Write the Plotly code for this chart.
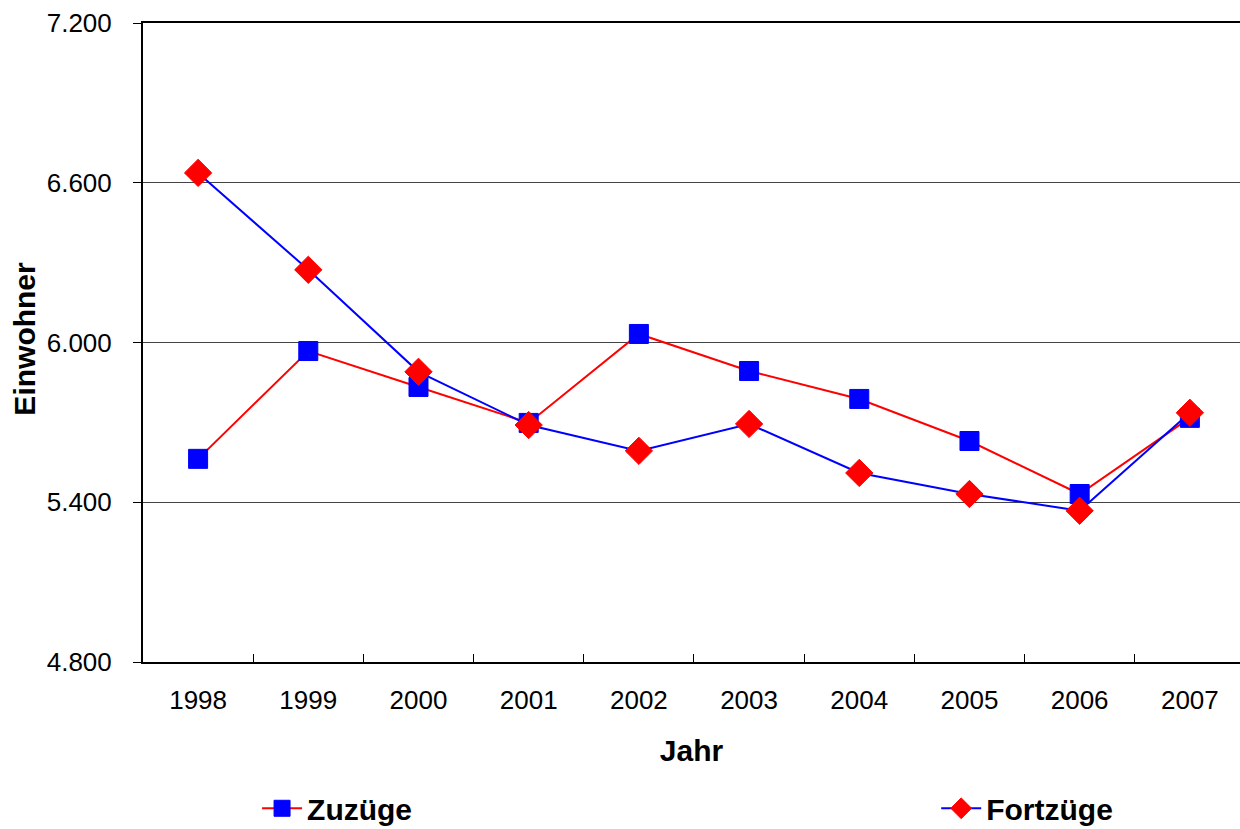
import plotly.graph_objects as go

years = ["1998", "1999", "2000", "2001", "2002", "2003", "2004", "2005", "2006", "2007"]
zuzuege = [5563, 5968, 5833, 5698, 6032, 5893, 5788, 5630, 5431, 5717]
fortzuege = [6637, 6273, 5890, 5690, 5593, 5694, 5510, 5431, 5368, 5736]
y_ticks = [4800, 5400, 6000, 6600, 7200]

FONT = "Liberation Sans, Arial, sans-serif"

fig = go.Figure()
fig.add_trace(go.Scatter(
    x=years, y=zuzuege, name="Zuzüge", mode="lines+markers", legend="legend",
    line=dict(color="#FF0000", width=2),
    marker=dict(symbol="square", size=19, color="#0000FF", line=dict(color="#0000FF", width=1)),
))
fig.add_trace(go.Scatter(
    x=years, y=fortzuege, name="Fortzüge", mode="lines+markers", legend="legend2",
    line=dict(color="#0000FF", width=2),
    marker=dict(symbol="diamond", size=21, color="#FF0000", line=dict(color="#FF0000", width=1)),
))

legend_font = dict(family=FONT, size=30, color="black", weight="bold")

fig.update_layout(
    width=1240, height=829,
    margin=dict(l=143, r=0, t=23, b=167, autoexpand=False),
    paper_bgcolor="white", plot_bgcolor="white",
    separators=",.",
    font=dict(family=FONT, size=26, color="black"),
    showlegend=True,
    legend=dict(
        xref="container", yref="container",
        x=0.2073, y=0.025, xanchor="left", yanchor="middle", itemwidth=40,
        font=legend_font, bgcolor="rgba(0,0,0,0)",
    ),
    legend2=dict(
        xref="container", yref="container",
        x=0.755, y=0.025, xanchor="left", yanchor="middle", itemwidth=40,
        font=legend_font, bgcolor="rgba(0,0,0,0)",
    ),
    xaxis=dict(
        type="category", range=[-0.5, 9.455],
        showline=True, linecolor="black", linewidth=2, mirror=True,
        ticks="inside", ticklen=8, tickwidth=1, tickcolor="black",
        tickson="boundaries", showgrid=False, zeroline=False,
        tickfont=dict(family=FONT, size=26),
        ticklabelstandoff=14,
        title=dict(text="Jahr", font=dict(family=FONT, size=30, weight="bold"), standoff=26),
    ),
    yaxis=dict(
        range=[4800, 7200], tickvals=y_ticks, tickformat=",d",
        showline=True, linecolor="black", linewidth=2,
        ticks="outside", ticklen=8, tickwidth=1, tickcolor="black",
        showgrid=True, gridcolor="#444444", gridwidth=1, zeroline=False,
        tickfont=dict(family=FONT, size=26),
        ticklabelstandoff=16,
    ),
    annotations=[dict(
        text="Einwohner", textangle=-90, showarrow=False,
        xref="paper", yref="paper", x=-0.1076, y=0.506,
        xanchor="center", yanchor="middle",
        font=dict(family=FONT, size=30, color="black", weight="bold"),
    )],
)

fig.write_html("out.html", config={"displayModeBar": False},
               post_script="document.body.style.margin='0';")
